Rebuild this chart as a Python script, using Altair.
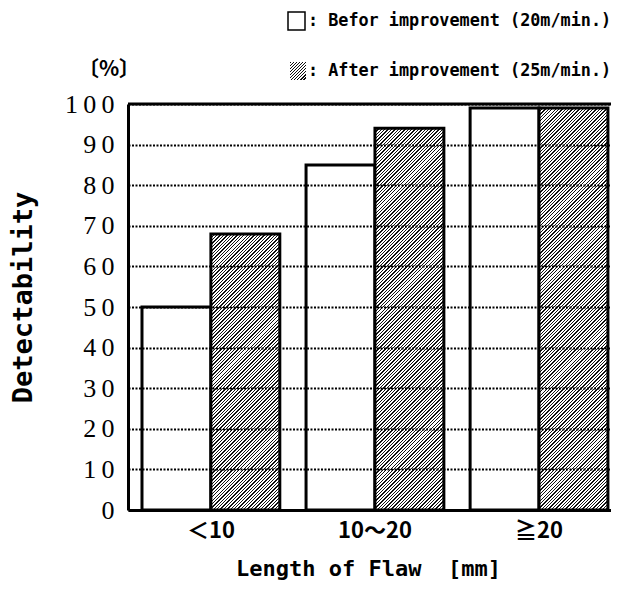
import math
import altair as alt
import pandas as pd

# ---------------- data ----------------
categories = ["＜10", "10～20", "≧20"]
series_names = ["Before", "After"]
before_values = [50, 85, 99]
after_values = [68, 94, 99]
y_ticks = [0, 10, 20, 30, 40, 50, 60, 70, 80, 90, 100]
legend_before = ": Befor improvement (20m/min.)"
legend_after = ": After improvement (25m/min.)"
unit_label = "〔%〕"
x_title = "Length of Flaw \u00a0[mm]"
y_title = "Detectability"

# ---------------- layout ----------------
W_PLOT = 483
H_PLOT = 406
PAD_INNER = 0.16
PAD_OUTER = 0.052
ALIGN = 0.82

step = W_PLOT / (len(categories) - PAD_INNER + 2 * PAD_OUTER)
bar_w = step * (1 - PAD_INNER) / 2

MONO = "DejaVu Sans Mono"
SERIF = "Liberation Serif"
CJK = "Noto Sans CJK JP"


def hatch(w, h, period=2.4, frac=0.4):
    """Diagonal '/' hatch as a striped linear gradient (45 deg in pixels)."""
    c = (w + h) / (w * w + h * h)
    length = (w + h) / math.sqrt(2)
    n = max(1, int(round(length / period)))
    stops = []
    for i in range(n):
        a = round(i / n, 6)
        b = round((i + frac) / n, 6)
        e = round((i + 1) / n, 6)
        stops += [
            alt.GradientStop(offset=a, color="#111111"),
            alt.GradientStop(offset=b, color="#111111"),
            alt.GradientStop(offset=b, color="#ffffff"),
            alt.GradientStop(offset=e, color="#ffffff"),
        ]
    return alt.LinearGradient(
        gradient="linear", x1=0, y1=0, x2=round(w * c, 6), y2=round(h * c, 6), stops=stops
    )


rows = []
for cat, b, a in zip(categories, before_values, after_values):
    rows.append({"cat": cat, "series": "Before", "value": b})
    rows.append({"cat": cat, "series": "After", "value": a})
df = pd.DataFrame(rows)

X = alt.X(
    "cat:N",
    sort=categories,
    scale=alt.Scale(paddingInner=PAD_INNER, paddingOuter=PAD_OUTER, align=ALIGN),
    axis=alt.Axis(
        title=x_title,
        labelAngle=0,
        ticks=False,
        grid=False,
        domainColor="black",
        domainWidth=3,
        labelFont=CJK,
        labelFontSize=22,
        labelFontWeight="bold",
        labelColor="black",
        labelPadding=10,
        titleFont=MONO,
        titleFontSize=22,
        titleFontWeight="bold",
        titleColor="black",
        titleX=240,
        titleY=58,
        titleAlign="center",
        titleBaseline="middle",
        zindex=1,
    ),
)
XO = alt.XOffset(
    "series:N",
    sort=series_names,
    scale=alt.Scale(domain=series_names, paddingInner=0, paddingOuter=0),
)
Y = alt.Y(
    "value:Q",
    scale=alt.Scale(domain=[0, 100], nice=False),
    axis=alt.Axis(
        values=y_ticks,
        grid=True,
        gridDash=[2, 1.5],
        gridColor="black",
        gridWidth=2,
        gridOpacity=1,
        ticks=False,
        domainColor="black",
        domainWidth=3,
        labelFont=SERIF,
        labelFontSize=26,
        labelColor="black",
        labelPadding=14,
        labelExpr="join(split(datum.label, ''), '\u2009')",
        title=y_title,
        titleFont=MONO,
        titleFontSize=27,
        titleFontWeight="bold",
        titleColor="black",
        titleAngle=270,
        titleX=-105,
        titleY=193,
        titleAlign="center",
        titleBaseline="middle",
        zindex=1,
    ),
)

base = alt.Chart(df)

before_layer = base.transform_filter(alt.datum.series == "Before").mark_bar(
    fill="white", stroke="black", strokeWidth=3
).encode(x=X, xOffset=XO, y=Y)

after_layers = []
for cat, a in zip(categories, after_values):
    h = a / 100 * H_PLOT
    after_layers.append(
        base.transform_filter(
            (alt.datum.series == "After") & (alt.datum.cat == cat)
        ).mark_bar(fill=hatch(bar_w, h), stroke="black", strokeWidth=3).encode(
            x=X, xOffset=XO, y=Y
        )
    )

top_rule = alt.Chart(pd.DataFrame({"value": [100]})).mark_rule(
    color="black", strokeWidth=3
).encode(y=Y)

one = pd.DataFrame({"k": [0]})
box_before = alt.Chart(one).mark_rect(fill="white", stroke="black", strokeWidth=1.5).encode(
    x=alt.value(160), x2=alt.value(177), y=alt.value(-92), y2=alt.value(-74)
)
box_after = alt.Chart(one).mark_rect(fill=hatch(16, 18, period=2.2)).encode(
    x=alt.value(162), x2=alt.value(178), y=alt.value(-42), y2=alt.value(-24)
)
txt_before = alt.Chart(one).mark_text(
    font=MONO, fontSize=16.8, fontWeight="bold", align="left", baseline="middle", color="black"
).encode(x=alt.value(180), y=alt.value(-83), text=alt.value(legend_before))
txt_after = alt.Chart(one).mark_text(
    font=MONO, fontSize=16.8, fontWeight="bold", align="left", baseline="middle", color="black"
).encode(x=alt.value(180), y=alt.value(-33), text=alt.value(legend_after))
txt_unit = alt.Chart(one).mark_text(
    font=CJK, fontSize=21, fontWeight="bold", align="center", baseline="middle", color="black"
).encode(x=alt.value(-19), y=alt.value(-34), text=alt.value(unit_label))

chart = alt.layer(
    before_layer,
    *after_layers,
    top_rule,
    box_before,
    box_after,
    txt_before,
    txt_after,
    txt_unit,
).properties(
    width=W_PLOT,
    height=H_PLOT,
    padding={"left": 120, "top": 96, "right": 0, "bottom": 74},
    autosize=alt.AutoSizeParams(type="none"),
    background="white",
).configure_view(stroke=None)

chart.save("out.html", embed_options={"renderer": "svg", "actions": False})
